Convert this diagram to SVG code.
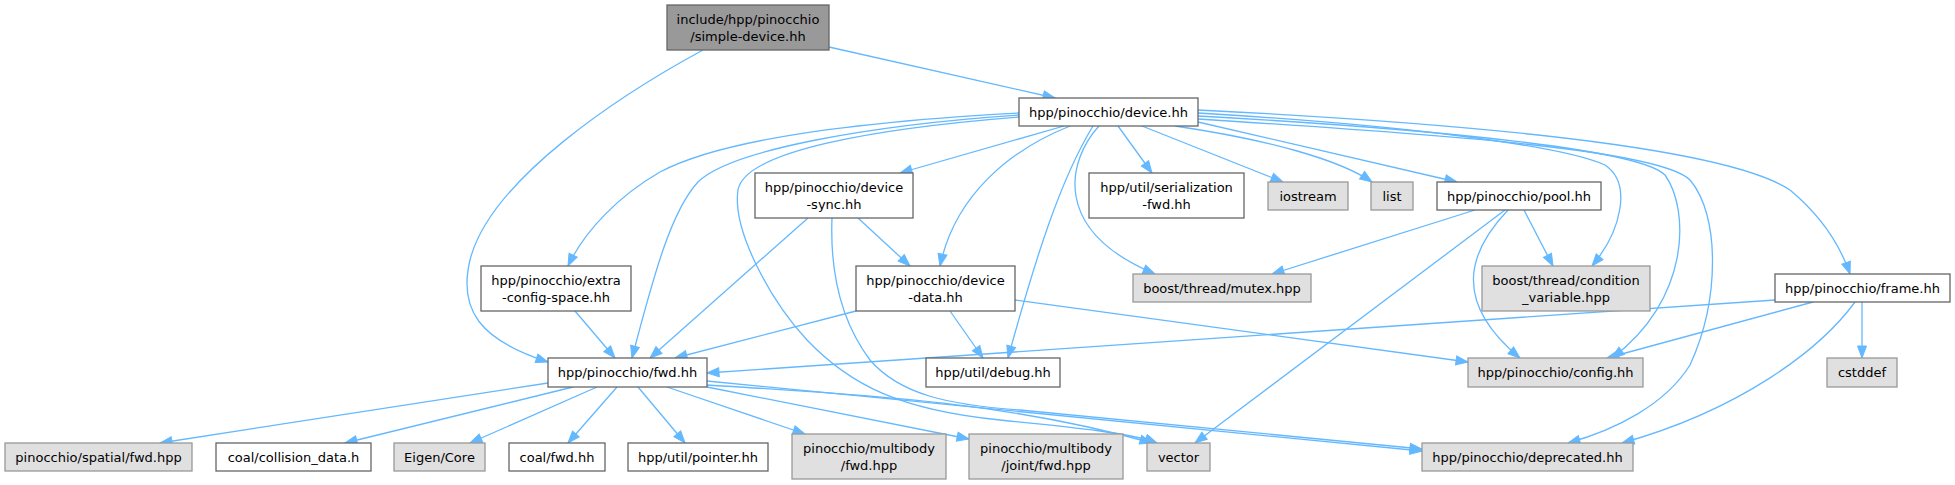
<svg xmlns="http://www.w3.org/2000/svg" width="1955" height="485" viewBox="0 0 1955 485">
<style>
.n rect{fill:#ffffff;stroke:#666666;stroke-width:1.3}
.g rect{fill:#e0e0e0;stroke:#999999;stroke-width:1.3}
.r rect{fill:#999999;stroke:#666666;stroke-width:1.3}
text{font-family:"DejaVu Sans",sans-serif;font-size:13px;fill:#000000;text-anchor:middle}
#edges path{fill:none;stroke:#63b8ff;stroke-width:1.3;marker-end:url(#ah)}
</style>
<defs>
<marker id="ah" markerUnits="userSpaceOnUse" markerWidth="13" markerHeight="10" refX="12" refY="4.5" orient="auto" overflow="visible">
<path d="M0,0 L12,4.5 L0,9 z" fill="#63b8ff" stroke="#63b8ff" stroke-width="1"/>
</marker>
</defs>
<rect width="1955" height="485" fill="#ffffff"/>
<g id="edges">
<path d="M829,47 L1055,98"/>
<path d="M703,50 C620,95 490,180 470,260 C458,310 480,340 548,362"/>
<path d="M1064,126 L900,173"/>
<path d="M1070,126 C1010,150 955,195 940,266"/>
<path d="M1118,126 L1152,173"/>
<path d="M1142,126 L1283,182"/>
<path d="M1175,126 C1270,140 1340,160 1372,182"/>
<path d="M1198,122 L1457,182"/>
<path d="M1099,126 C1068,160 1050,230 1155,274"/>
<path d="M1198,113 C1400,125 1560,145 1605,165 C1632,183 1622,230 1592,266"/>
<path d="M1198,116 C1450,130 1640,150 1665,175 C1690,210 1690,300 1612,358"/>
<path d="M1198,119 C1450,135 1660,150 1690,180 C1720,215 1720,300 1690,365 C1665,405 1615,430 1568,443"/>
<path d="M1198,110 C1500,125 1730,150 1790,190 C1820,215 1840,245 1850,274"/>
<path d="M1093,126 C1060,180 1035,260 1008,358"/>
<path d="M1019,113 C850,122 720,140 660,172 C620,195 585,230 568,266"/>
<path d="M1019,115 C870,125 730,150 698,182 C672,210 655,270 632,358"/>
<path d="M1019,117 C880,128 745,150 738,190 C732,230 770,300 807,340 C850,385 900,410 1000,420 C1080,428 1130,433 1157,443"/>
<path d="M858,218 L910,266"/>
<path d="M808,218 L650,358"/>
<path d="M832,218 C830,270 840,320 870,360 C900,395 950,405 1020,410 L1422,449"/>
<path d="M1475,210 L1272,274"/>
<path d="M1524,210 L1553,266"/>
<path d="M1508,210 C1470,250 1450,300 1520,358"/>
<path d="M1505,210 L1195,443"/>
<path d="M575,311 L615,358"/>
<path d="M856,311 L675,358"/>
<path d="M950,311 L983,358"/>
<path d="M1015,300 L1468,362"/>
<path d="M1775,300 L707,373"/>
<path d="M1813,302 L1607,358"/>
<path d="M1855,302 C1820,350 1740,410 1622,443"/>
<path d="M1862,302 L1862,358"/>
<path d="M548,383 L160,443"/>
<path d="M573,387 L345,443"/>
<path d="M597,387 L470,443"/>
<path d="M617,387 L568,443"/>
<path d="M638,387 L685,443"/>
<path d="M667,387 L805,434"/>
<path d="M707,387 L969,439"/>
<path d="M707,385 C850,394 1000,400 1152,443"/>
<path d="M707,381 L1422,451"/>
</g>
<g id="simple-device" class="r"><rect x="667" y="5" width="162" height="45"/><text x="748" y="23.5">include/hpp/pinocchio</text><text x="748" y="40.5">/simple-device.hh</text></g>
<g id="device" class="n"><rect x="1019" y="98" width="179" height="28"/><text x="1108.5" y="116.5">hpp/pinocchio/device.hh</text></g>
<g id="device-sync" class="n"><rect x="755" y="173" width="158" height="45"/><text x="834" y="191.5">hpp/pinocchio/device</text><text x="834" y="208.5">-sync.hh</text></g>
<g id="serialization-fwd" class="n"><rect x="1089" y="173" width="155" height="45"/><text x="1166.5" y="191.5">hpp/util/serialization</text><text x="1166.5" y="208.5">-fwd.hh</text></g>
<g id="iostream" class="g"><rect x="1268" y="182" width="80" height="28"/><text x="1308" y="200.5">iostream</text></g>
<g id="list" class="g"><rect x="1371" y="182" width="42" height="28"/><text x="1392" y="200.5">list</text></g>
<g id="pool" class="n"><rect x="1437" y="182" width="164" height="28"/><text x="1519" y="200.5">hpp/pinocchio/pool.hh</text></g>
<g id="extra-config-space" class="n"><rect x="481" y="266" width="150" height="45"/><text x="556" y="284.5">hpp/pinocchio/extra</text><text x="556" y="301.5">-config-space.hh</text></g>
<g id="device-data" class="n"><rect x="856" y="266" width="159" height="45"/><text x="935.5" y="284.5">hpp/pinocchio/device</text><text x="935.5" y="301.5">-data.hh</text></g>
<g id="mutex" class="g"><rect x="1133" y="274" width="178" height="28"/><text x="1222" y="292.5">boost/thread/mutex.hpp</text></g>
<g id="condition-variable" class="g"><rect x="1482" y="266" width="168" height="45"/><text x="1566" y="284.5">boost/thread/condition</text><text x="1566" y="301.5">_variable.hpp</text></g>
<g id="frame" class="n"><rect x="1775" y="274" width="175" height="28"/><text x="1862.5" y="292.5">hpp/pinocchio/frame.hh</text></g>
<g id="fwd" class="n"><rect x="548" y="358" width="159" height="29"/><text x="627.5" y="377">hpp/pinocchio/fwd.hh</text></g>
<g id="debug" class="n"><rect x="926" y="358" width="134" height="29"/><text x="993" y="377">hpp/util/debug.hh</text></g>
<g id="config" class="g"><rect x="1468" y="358" width="175" height="29"/><text x="1555.5" y="377">hpp/pinocchio/config.hh</text></g>
<g id="cstddef" class="g"><rect x="1827" y="358" width="70" height="29"/><text x="1862" y="377">cstddef</text></g>
<g id="spatial-fwd" class="g"><rect x="5" y="443" width="187" height="28"/><text x="98.5" y="461.5">pinocchio/spatial/fwd.hpp</text></g>
<g id="collision-data" class="n"><rect x="216" y="443" width="155" height="28"/><text x="293.5" y="461.5">coal/collision_data.h</text></g>
<g id="eigen-core" class="g"><rect x="394" y="443" width="91" height="28"/><text x="439.5" y="461.5">Eigen/Core</text></g>
<g id="coal-fwd" class="n"><rect x="509" y="443" width="96" height="28"/><text x="557" y="461.5">coal/fwd.hh</text></g>
<g id="pointer" class="n"><rect x="628" y="443" width="140" height="28"/><text x="698" y="461.5">hpp/util/pointer.hh</text></g>
<g id="multibody-fwd" class="g"><rect x="792" y="434" width="154" height="45"/><text x="869" y="452.5">pinocchio/multibody</text><text x="869" y="469.5">/fwd.hpp</text></g>
<g id="joint-fwd" class="g"><rect x="969" y="434" width="154" height="45"/><text x="1046" y="452.5">pinocchio/multibody</text><text x="1046" y="469.5">/joint/fwd.hpp</text></g>
<g id="vector" class="g"><rect x="1147" y="443" width="63" height="28"/><text x="1178.5" y="461.5">vector</text></g>
<g id="deprecated" class="g"><rect x="1422" y="443" width="211" height="28"/><text x="1527.5" y="461.5">hpp/pinocchio/deprecated.hh</text></g>
</svg>
